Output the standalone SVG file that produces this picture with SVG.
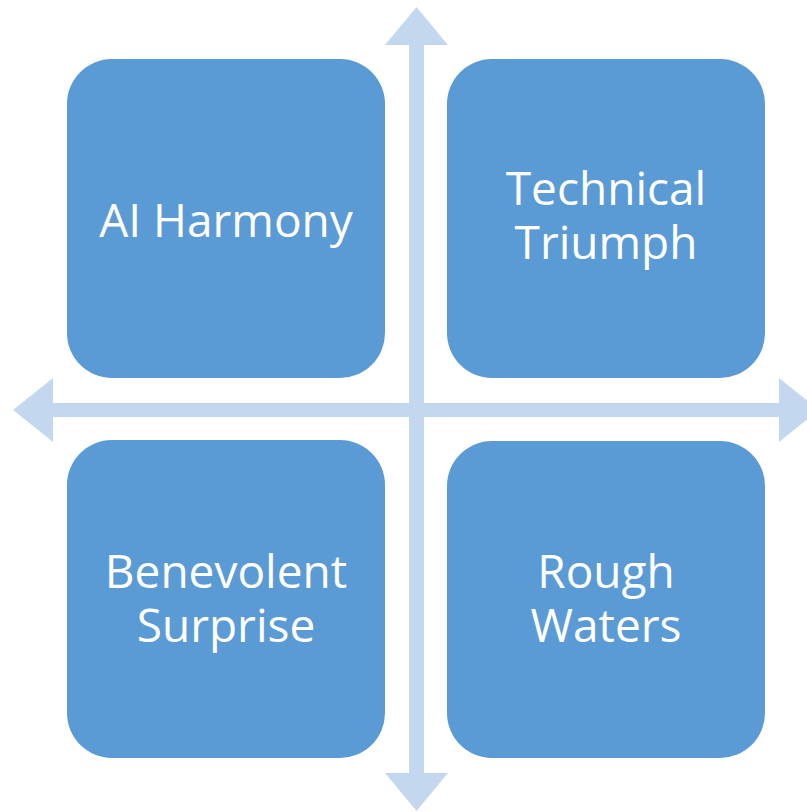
<svg xmlns="http://www.w3.org/2000/svg" width="807" height="812" viewBox="0 0 807 812">
<style>
.box{fill:#5B9BD5;}
.arr{fill:#C3D8EE;}
.lbl{font-family:"Open Sans","Liberation Sans",sans-serif;font-size:46px;fill:#FFFFFF;text-anchor:middle;}
</style>
<rect width="807" height="812" fill="#FFFFFF"/>
<g id="connectors">
<path class="arr" d="M409,45 L385,45 L416.5,7 L448,45 L424,45 L424,773 L448,773 L416.5,811 L385,773 L409,773 Z"/>
<path class="arr" d="M53,403 L53,378 L13,410 L53,442 L53,417 L779,417 L779,442 L819,410 L779,378 L779,403 Z"/>
</g>
<g id="ai-harmony">
<rect class="box" x="67" y="59" width="318" height="319" rx="45" ry="45"/>
<text class="lbl" x="226" y="237">AI Harmony</text>
</g>
<g id="technical-triumph">
<rect class="box" x="447" y="59" width="318" height="319" rx="45" ry="45"/>
<text class="lbl" x="606" y="205">Technical</text>
<text class="lbl" x="606" y="259">Triumph</text>
</g>
<g id="benevolent-surprise">
<rect class="box" x="67" y="440" width="318" height="318" rx="45" ry="45"/>
<text class="lbl" x="226" y="588">Benevolent</text>
<text class="lbl" x="226" y="642">Surprise</text>
</g>
<g id="rough-waters">
<rect class="box" x="447" y="441" width="318" height="317" rx="45" ry="45"/>
<text class="lbl" x="606" y="588">Rough</text>
<text class="lbl" x="606" y="642">Waters</text>
</g>
</svg>
